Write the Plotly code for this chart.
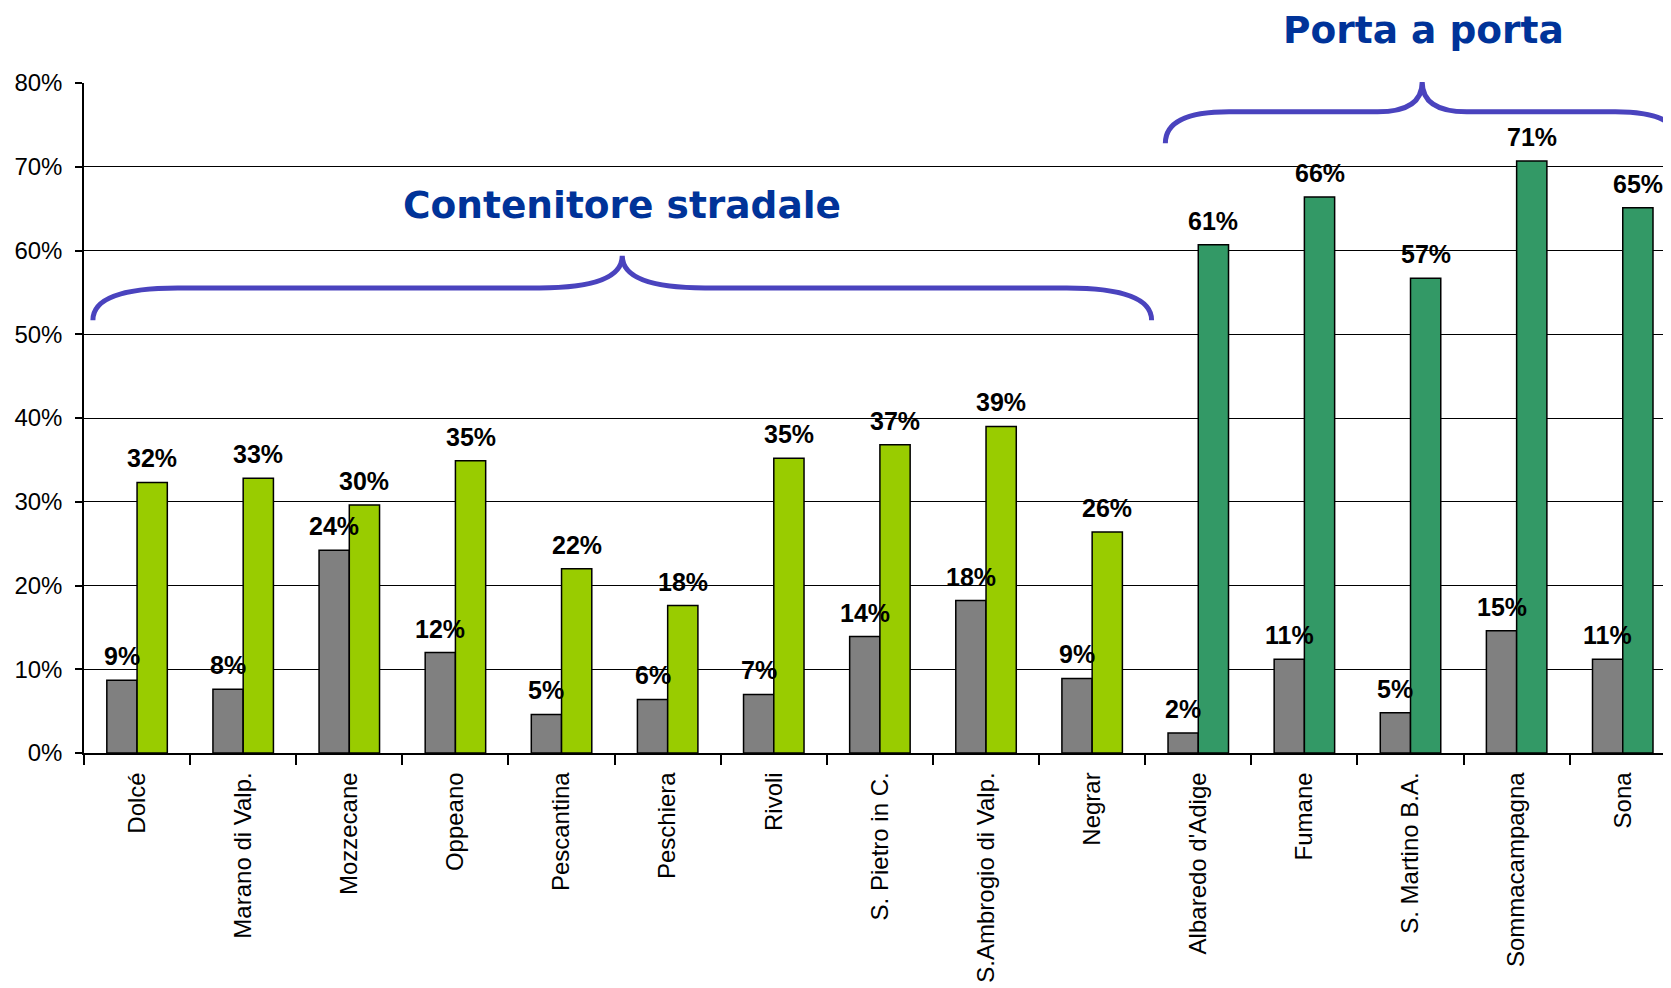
#!/usr/bin/env python3
# -*- coding: utf-8 -*-

"""Grouped bars: contenitore stradale vs porta a porta."""

import plotly.graph_objects as go

comuni = [
    "Dolcé", "Marano di Valp.", "Mozzecane", "Oppeano", "Pescantina",
    "Peschiera", "Rivoli", "S. Pietro in C.", "S.Ambrogio di Valp.",
    "Negrar", "Albaredo d'Adige", "Fumane", "S. Martino B.A.",
    "Sommacampagna", "Sona",
]
serie_grigia = [
    0.087, 0.076, 0.242, 0.120, 0.046, 0.064, 0.070, 0.139, 0.182,
    0.089, 0.024, 0.112, 0.048, 0.146, 0.112,
]
serie_verde = [
    0.323, 0.328, 0.296, 0.349, 0.220, 0.176, 0.352, 0.368, 0.390,
    0.264, 0.607, 0.664, 0.567, 0.707, 0.651,
]
sistema = ["stradale"] * 10 + ["porta a porta"] * 5
y_ticks = [0, 0.1, 0.2, 0.3, 0.4, 0.5, 0.6, 0.7, 0.8]

FONT = "Liberation Sans, Arial, sans-serif"
TITLE_FONT = dict(family="DejaVu Sans, Verdana, sans-serif", size=37.5,
                  color="#003399")
BRACE = dict(color="#4A43BE", width=5)
verde_col = ["#99CC00" if s == "stradale" else "#339966" for s in sistema]

fig = go.Figure()
fig.add_trace(
    go.Bar(
        x=comuni,
        y=serie_grigia,
        marker=dict(color="#808080", line=dict(color="black", width=1.5)),
        hoverinfo="y",
    )
)
fig.add_trace(
    go.Bar(
        x=comuni,
        y=serie_verde,
        marker=dict(color=verde_col, line=dict(color="black", width=1.5)),
        hoverinfo="y",
    )
)

annotations = []
# data labels
half = (1 - 0.43) / 4
for i, (g, v) in enumerate(zip(serie_grigia, serie_verde)):
    for off, val in ((-half, g), (half, v)):
        annotations.append(
            dict(
                x=i + off,
                y=val,
                xref="x",
                yref="y",
                text=f"<b>{val:.0%}</b>",
                showarrow=False,
                yanchor="bottom",
                yshift=8,
                font=dict(family=FONT, size=25, color="black"),
            )
        )

# group titles
annotations.append(
    dict(x=4.57, y=0.818, xref="x", yref="paper", text="<b>Contenitore stradale</b>",
         showarrow=False, font=TITLE_FONT, yanchor="middle")
)
annotations.append(
    dict(x=12.12, y=1.079, xref="x", yref="paper", text="<b>Porta a porta</b>",
         showarrow=False, font=TITLE_FONT, yanchor="middle")
)


def brace(x0, x1, y_end, y_flat, y_tip, w_end, w_tip):
    """Curly brace path (x in data units, y in paper units)."""
    xm = (x0 + x1) / 2
    return (
        f"M {x0},{y_end} Q {x0},{y_flat} {x0 + w_end},{y_flat} "
        f"L {xm - w_tip},{y_flat} Q {xm},{y_flat} {xm},{y_tip} "
        f"Q {xm},{y_flat} {xm + w_tip},{y_flat} "
        f"L {x1 - w_end},{y_flat} Q {x1},{y_flat} {x1},{y_end}"
    )


shapes = [
    dict(type="path", xref="x", yref="paper", line=BRACE,
         path=brace(-0.416, 9.56, 0.646, 0.694, 0.742, 0.8, 0.78)),
    dict(type="path", xref="x", yref="paper", line=BRACE,
         path=brace(9.69, 14.53, 0.910, 0.957, 1.0015, 0.6, 0.42)),
]

# the page body adds an 8px offset; the plot runs off the right edge
fig.update_layout(
    width=1671,
    height=980,
    barmode="group",
    bargap=0.43,
    bargroupgap=0,
    showlegend=False,
    paper_bgcolor="white",
    plot_bgcolor="white",
    margin=dict(l=76, r=0, t=75, b=235, pad=0),
    annotations=annotations,
    shapes=shapes,
)
fig.update_xaxes(
    type="category",
    range=[-0.5, 14.53],
    tickangle=-90,
    tickfont=dict(family=FONT, size=24, color="black"),
    showline=True,
    linecolor="black",
    linewidth=1.5,
    ticks="outside",
    tickson="boundaries",
    ticklen=10,
    tickcolor="black",
    tickwidth=1.5,
    showgrid=False,
    ticklabelstandoff=8,
)
fig.update_yaxes(
    range=[0, 0.8],
    tickvals=y_ticks,
    tickformat=".0%",
    tickfont=dict(family=FONT, size=24, color="black"),
    showline=True,
    linecolor="black",
    linewidth=1.5,
    ticks="outside",
    ticklen=7,
    tickcolor="black",
    tickwidth=1.5,
    showgrid=True,
    gridcolor="black",
    gridwidth=1.2,
    zeroline=False,
    ticklabelstandoff=8,
)

fig.write_html("out.html")
